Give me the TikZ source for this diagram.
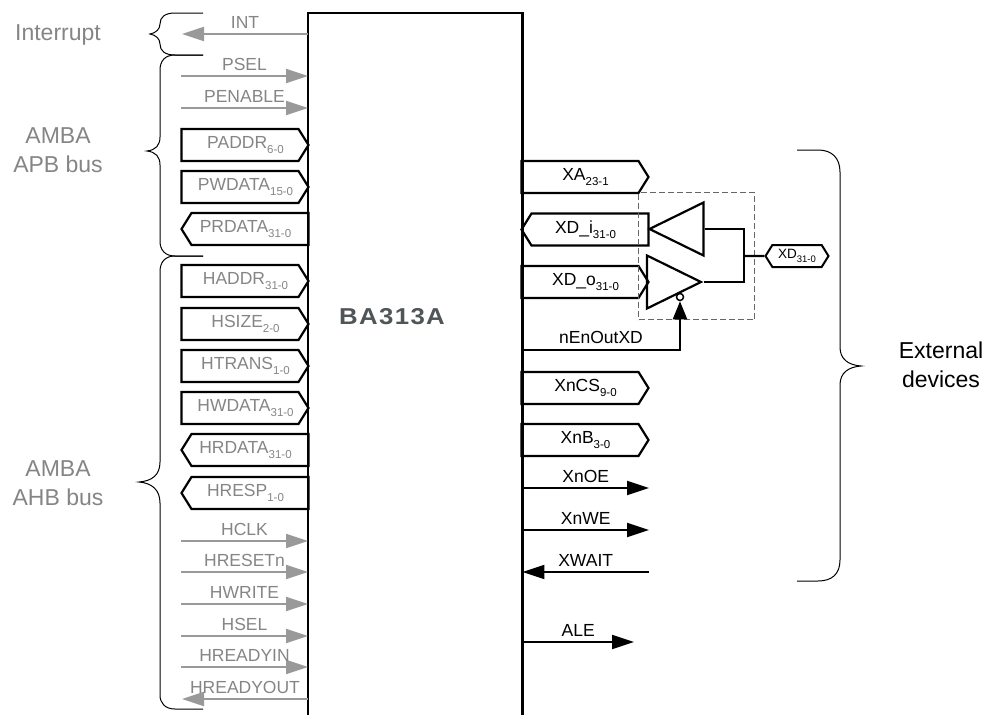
\documentclass[tikz,border=0pt]{standalone}
\usepackage{fontspec}
\setmainfont{Liberation Sans}
\newfontfamily\chipfont[FakeStretch=1.12,LetterSpace=6]{Liberation Sans}
\usetikzlibrary{shapes.geometric,shapes.symbols,arrows.meta,positioning,calc}
\definecolor{socGray}{HTML}{858585}
\definecolor{socArrow}{HTML}{999999}
\definecolor{socChip}{HTML}{505558}
\definecolor{socDash}{HTML}{666666}
\newcommand{\busidx}[1]{\raisebox{-5pt}{\fontsize{11.5}{12}\selectfont #1}}
\newcommand{\smallidx}[1]{\raisebox{-4pt}{\fontsize{9.5}{11}\selectfont #1}}
\tikzset{
  sigfont/.style={font=\fontsize{17.5}{20}\selectfont},
  groupfont/.style={font=\fontsize{23}{29}\selectfont, align=center, inner sep=0pt},
  busout/.style={signal, signal to=east, signal pointer angle=116, draw=black, line width=2.2pt,
    minimum width=127pt, minimum height=32pt, inner sep=0pt, sigfont,
    execute at begin node={\hspace*{11pt}}},
  busin/.style={signal, signal to=west, signal pointer angle=116, draw=black, line width=2.2pt,
    minimum width=127pt, minimum height=32pt, inner sep=0pt, sigfont,
    execute at end node={\hspace*{9pt}}},
  apblab/.style={text=socGray},
  arrowgray/.style={-{Triangle[length=22pt,width=14pt]}, draw=socArrow, line width=2pt},
  arrowblack/.style={-{Triangle[length=22pt,width=14pt]}, draw=black, line width=2pt},
  edgelab/.style={above, sigfont, inner xsep=0pt, inner ysep=5pt, text depth=0pt},
  wireline/.style={draw=black, line width=2.2pt},
  braceline/.style={draw=black, line width=1pt},
  buffer/.style={isosceles triangle, isosceles triangle apex angle=52, isosceles triangle stretches,
    draw=black, line width=2.2pt, minimum width=53pt, minimum height=54pt, inner sep=0pt}
}
\begin{document}
\begin{tikzpicture}[x=1pt,y=-1pt]
\useasboundingbox (0,0) rectangle (988,715);
% chip body, open at the bottom
\node[minimum width=214pt, minimum height=702pt, inner sep=0pt, anchor=north west] (chip) at (308,13) {};
\draw[wireline] (chip.south west) |- (chip.north east) -- (chip.south east);
\node[font=\chipfont\bfseries\fontsize{23}{26}\selectfont, text=socChip, anchor=base] (chipname) at (392,324) {BA313A};

% group labels
\node[groupfont, text=socGray, anchor=base] (irqname) at (58,40) {Interrupt};
\node[groupfont, text=socGray] (apbname) at (58,150) {AMBA\\APB bus};
\node[groupfont, text=socGray] (ahbname) at (58,483) {AMBA\\AHB bus};
\node[groupfont] (extname) at (941,365) {External\\devices};

% left side single wires
\coordinate (int) at (182,34);
\coordinate (psel) at (181,76);
\coordinate (penable) at (181,108);
\coordinate (hclk) at (181,541);
\coordinate (hresetn) at (181,572);
\coordinate (hwrite) at (181,604);
\coordinate (hsel) at (181,636);
\coordinate (hreadyin) at (181,667);
\coordinate (hreadyout) at (182,699);
\draw[arrowgray] (int -| chip.west) -- node[edgelab,apblab]{INT} (int);
\draw[arrowgray] (psel) -- node[edgelab,apblab]{PSEL} (psel -| chip.west);
\draw[arrowgray] (penable) -- node[edgelab,apblab]{PENABLE} (penable -| chip.west);
\draw[arrowgray] (hclk) -- node[edgelab,apblab]{HCLK} (hclk -| chip.west);
\draw[arrowgray] (hresetn) -- node[edgelab,apblab]{HRESETn} (hresetn -| chip.west);
\draw[arrowgray] (hwrite) -- node[edgelab,apblab]{HWRITE} (hwrite -| chip.west);
\draw[arrowgray] (hsel) -- node[edgelab,apblab]{HSEL} (hsel -| chip.west);
\draw[arrowgray] (hreadyin) -- node[edgelab,apblab]{HREADYIN} (hreadyin -| chip.west);
\draw[arrowgray] (hreadyout -| chip.west) -- node[edgelab,apblab]{HREADYOUT} (hreadyout);

% left side buses
\node[busout, apblab] (paddr) at (240,145) {PADDR\busidx{6-0}};
\node[busout, apblab] (pwdata) at (240,187) {PWDATA\busidx{15-0}};
\node[busin, apblab] (prdata) at (250,229) {PRDATA\busidx{31-0}};
\node[busout, apblab] (haddr) at (240,281) {HADDR\busidx{31-0}};
\node[busout, apblab] (hsize) at (240,324) {HSIZE\busidx{2-0}};
\node[busout, apblab] (htrans) at (240,366) {HTRANS\busidx{1-0}};
\node[busout, apblab] (hwdata) at (240,408) {HWDATA\busidx{31-0}};
\node[busin, apblab] (hrdata) at (250,450) {HRDATA\busidx{31-0}};
\node[busin, apblab] (hresp) at (250,493) {HRESP\busidx{1-0}};

% right side buses
\node[busout] (xa) at (580,177) {XA\busidx{23-1}};
\node[busin] (xdi) at (590,229.500) {XD\_i\busidx{31-0}};
\node[busout] (xdo) at (580,282) {XD\_o\busidx{31-0}};
\node[busout] (xncs) at (580,388) {XnCS\busidx{9-0}};
\node[busout] (xnb) at (580,440) {XnB\busidx{3-0}};

% right side single wires
\coordinate (xnoe) at (649,488);
\coordinate (xnwe) at (649,530);
\coordinate (xwait) at (649,572);
\coordinate (ale) at (634,642);
\draw[arrowblack] (xnoe -| chip.east) -- node[edgelab]{XnOE} (xnoe);
\draw[arrowblack] (xnwe -| chip.east) -- node[edgelab]{XnWE} (xnwe);
\draw[arrowblack] (xwait) -- node[edgelab]{XWAIT} (xwait -| chip.east);
\draw[arrowblack] (ale -| chip.east) -- node[edgelab]{ALE} (ale);

% tri-state pad
\node[draw=socDash, dash pattern=on 6pt off 3pt, line width=1.2pt, minimum width=116pt, minimum height=127pt, inner sep=0pt, anchor=north west] (pad) at (638,192) {};
\node[buffer, shape border rotate=180, anchor=apex] (bufin) at (647,229) {};
\node[buffer, anchor=apex] (bufout) at (703.500,282) {};
\node[circle, draw=black, line width=1.5pt, fill=white, minimum size=7pt, inner sep=0pt] (oebar) at (680,297) {};
\node[signal, signal to=east and west, signal pointer angle=116, draw=black, line width=2pt, minimum width=63pt, minimum height=22pt, inner sep=0pt, font=\fontsize{13.5}{15}\selectfont] (xd) at (797,256) {XD\smallidx{31-0}};
\coordinate (join) at (744,256);
\coordinate (nen) at (522,350);
\draw[wireline] (bufin.lower side) -| (join);
\draw[wireline] (bufout.apex) -| (join);
\draw[wireline] (join) -- (xd);
\draw[-{Triangle[length=18pt,width=14pt]}, wireline] (nen) -| node[edgelab, pos=0.25]{nEnOutXD} (oebar.south);

% braces
\draw[braceline] (203,13) -- (175,13) .. controls (165,13) and (160,17) .. (160,24) .. controls (160,29) and (156,33) .. (150,34) .. controls (156,35) and (160,39) .. (160,44) .. controls (160,51) and (165,55) .. (175,55) -- (203,55);
\draw[braceline] (203,55) -- (175,55) .. controls (165,55) and (160,61) .. (160,70) -- (160,137) .. controls (160,145) and (156,150) .. (147,151) .. controls (156,152) and (160,157) .. (160,165) -- (160,241) .. controls (160,250) and (165,256) .. (175,256) -- (203,256);
\draw[braceline] (203,256) -- (175,256) .. controls (165,256) and (160,262) .. (160,272) -- (160,462) .. controls (160,475) and (152,481) .. (139,482) .. controls (152,483) and (160,490) .. (160,503) -- (160,695) .. controls (160,703) and (165,709) .. (175,709) -- (203,709);
\draw[braceline] (797,150) -- (818,150) .. controls (832,150) and (840,158) .. (840,172) -- (840,347) .. controls (840,359) and (848,365) .. (861,366) .. controls (848,367) and (840,373) .. (840,385) -- (840,560) .. controls (840,574) and (832,581) .. (818,581) -- (797,581);
\end{tikzpicture}
\end{document}
